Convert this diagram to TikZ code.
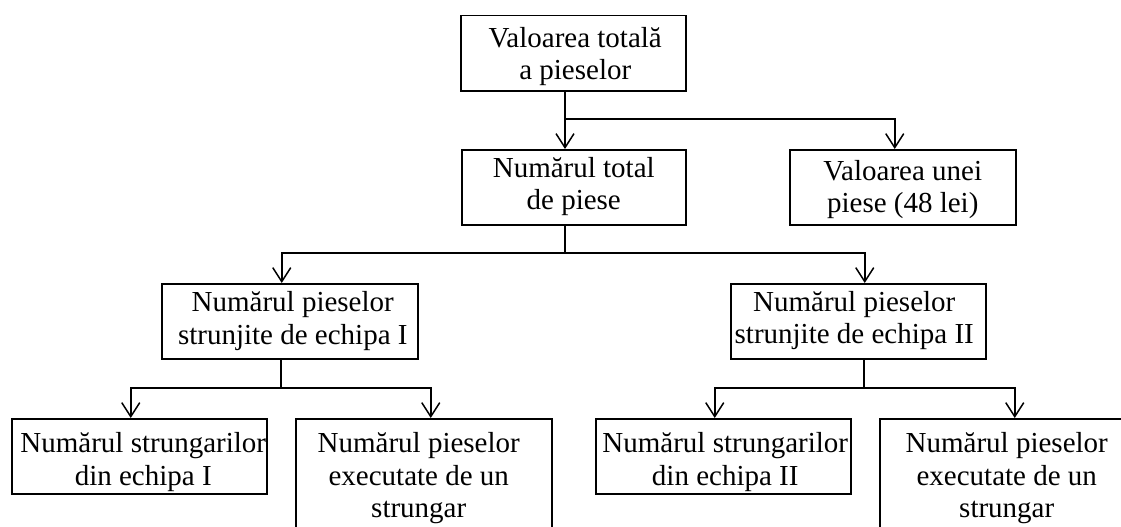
\documentclass[tikz,border=0pt]{standalone}
\usepackage{fontspec}
\setmainfont{Liberation Serif}
\usetikzlibrary{arrows.meta}
\newcommand\boxtxt[5]{\parbox[c][#2pt][t]{#1pt}{\fontsize{29}{32.5}\selectfont\centering\leftskip=#5pt plus 1fil\rightskip=-#5pt plus 1fil\rule{0pt}{#3pt}#4}}
\tikzset{
  box/.style={draw, line width=1.5pt, inner sep=0pt, anchor=north west},
  link/.style={line width=1.5pt},
  arr/.style={line width=1.5pt, -{Straight Barb[length=14pt,width=18pt,line width=1.5pt]}}
}
\begin{document}
\begin{tikzpicture}[x=1pt,y=-1pt]
\clip (0,0) rectangle (1121,527);
\fill[white] (0,0) rectangle (1121,527);
\node[box] (b1) at (460,15) {\boxtxt{225}{75}{31.7}{Valoarea totală\\a pieselor}{2}};
\node[box] (b2) at (461,149) {\boxtxt{224}{75}{27.7}{Numărul total\\de piese}{0}};
\node[box] (b3) at (789,149) {\boxtxt{226}{75}{30.7}{Valoarea unei\\piese (48 lei)}{0}};
\node[box] (b4) at (161,283) {\boxtxt{256}{75}{28}{Numărul pieselor\\strunjite de echipa I}{3}};
\node[box] (b5) at (730,283) {\boxtxt{255}{75}{27.3}{Numărul pieselor\\strunjite de echipa II}{-4}};
\node[box] (b6) at (11,418) {\boxtxt{255}{75}{34}{Numărul strungarilor\\din echipa I}{4}};
\node[box] (b7) at (295,418) {\boxtxt{256}{130}{34}{Numărul pieselor\\executate de un\\strungar}{-5}};
\node[box] (b8) at (595,418) {\boxtxt{255}{75}{34}{Numărul strungarilor\\din echipa II}{2}};
\node[box] (b9) at (879,418) {\boxtxt{256}{130}{34}{Numărul pieselor\\executate de un\\strungar}{-1}};
% level 1
\coordinate (j1) at (565,119);
\draw[arr] (b1.south -| j1) -- (b2.north -| j1);
\draw[arr] (j1) -| ([xshift=-8pt]b3.north);
% level 2
\coordinate (j2) at (565,253);
\draw[link] (b2.south -| j2) -- (j2);
\draw[arr] (j2) -| ([xshift=-8pt]b4.north);
\draw[arr] (j2) -| ([xshift=6.5pt]b5.north);
% level 3 left
\coordinate (j3) at (281,388);
\draw[link] (b4.south -| j3) -- (j3);
\draw[arr] (j3) -| ([xshift=-8.5pt]b6.north);
\draw[arr] (j3) -| ([xshift=7pt]b7.north);
% level 3 right
\coordinate (j4) at (864,388);
\draw[link] (b5.south -| j4) -- (j4);
\draw[arr] (j4) -| ([xshift=-8.5pt]b8.north);
\draw[arr] (j4) -| ([xshift=7pt]b9.north);
\end{tikzpicture}
\end{document}
